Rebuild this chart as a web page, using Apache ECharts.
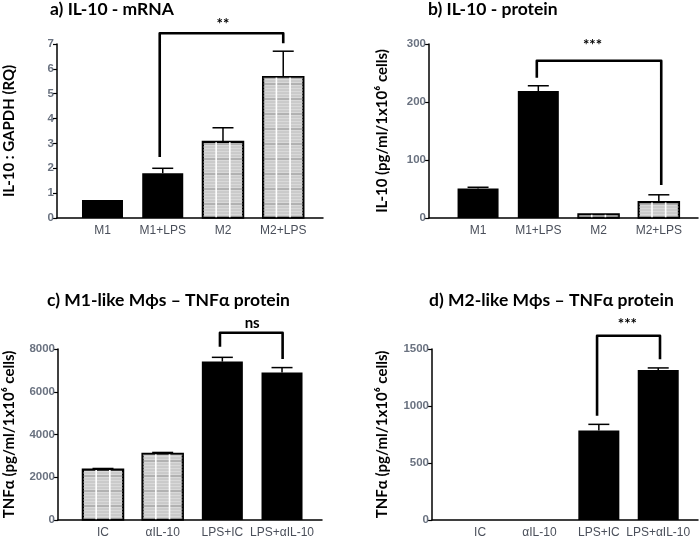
<!DOCTYPE html>
<html><head><meta charset="utf-8">
<script src="https://cdn.jsdelivr.net/npm/echarts@6/dist/echarts.min.js"></script>
<style>html,body{margin:0;padding:0;background:#fff}#c{width:700px;height:539px}</style>
</head><body><div id="c"></div>
<script>
// ---- data ----
const catsAB = ['M1', 'M1+LPS', 'M2', 'M2+LPS'];
const catsCD = ['IC', 'αIL-10', 'LPS+IC', 'LPS+αIL-10'];

const aValues = [0.72, 1.80, 3.08, 5.68];
const aErrTop = [null, 2.00, 3.63, 6.71];
const bValues = [51, 219, 7, 28];
const bErrTop = [53, 228, null, 40];
const cValues = [2370, 3110, 7410, 6900];
const cErrTop = [2410, 3160, 7610, 7130];
const dValues = [0, 0, 786, 1316];
const dErrTop = [null, null, 839, 1334];

const aTicks = {min: 0, max: 7, interval: 1};
const bTicks = {min: 0, max: 300, interval: 100};
const cTicks = {min: 0, max: 8000, interval: 2000};
const dTicks = {min: 0, max: 1500, interval: 500};

// brackets: [xLeft, yLeftBottom, yTop, xRight, yRightBottom]
const aBracket = [0.95, 2.45, 7.43, 3.0, 7.03];
const bBracket = [0.975, 242, 271, 3.04, 57];
const cBracket = [1.96, 8100, 8760, 3.01, 7530];
const dBracket = [1.97, 915, 1616, 3.03, 1410];
// significance labels: [x, y, text]
const aSig = [2.0, 7.8, '**'];
const bSig = [1.9, 298, '***'];
const cSig = [2.5, 9210, 'ns'];
const dSig = [2.48, 1715, '***'];

const titles = ['a) IL-10 - mRNA', 'b) IL-10 - protein', 'c) M1-like Mϕs – TNFα protein', 'd) M2-like Mϕs – TNFα protein'];
const yNames = ['IL-10 : GAPDH (RQ)', 'IL-10 (pg/ml/1x10⁶ cells)', 'TNFα (pg/ml/1x10⁶ cells)', 'TNFα (pg/ml/1x10⁶ cells)'];

// ---- style ----
const patterned = [[false, false, true, true], [false, false, true, true], [true, true, false, false], [false, false, false, false]];
const panels = [
  {vals: aValues, err: aErrTop, ticks: aTicks, cats: catsAB, br: aBracket, sig: aSig, grid: {left: 57, top: 44, width: 266, height: 174}, xr: [-0.755, 3.66], gap: 40},
  {vals: bValues, err: bErrTop, ticks: bTicks, cats: catsAB, br: bBracket, sig: bSig, grid: {left: 429, top: 44, width: 269, height: 174}, xr: [-0.814, 3.65], gap: 39},
  {vals: cValues, err: cErrTop, ticks: cTicks, cats: catsCD, br: cBracket, sig: cSig, grid: {left: 58, top: 349, width: 264, height: 172}, xr: [-0.754, 3.67], gap: 41},
  {vals: dValues, err: dErrTop, ticks: dTicks, cats: catsCD, br: dBracket, sig: dSig, grid: {left: 432, top: 349, width: 266, height: 172}, xr: [-0.81, 3.67], gap: 42}
];
const titlePos = [[50, 0], [428, 0], [47, 291], [429, 291]];
const BW = 41;

const chart = echarts.init(document.getElementById('c'), null, {renderer: 'canvas'});
const option = {
  backgroundColor: '#fff',
  animation: false,
  title: titles.map((t, i) => ({text: t, left: titlePos[i][0], top: titlePos[i][1], padding: 0,
    textStyle: {fontFamily: 'Lato', fontWeight: 'bold', fontSize: 17.5, color: '#000'}})),
  grid: panels.map(p => p.grid),
  xAxis: panels.map((p, i) => ({
    type: 'value', gridIndex: i, min: p.xr[0], max: p.xr[1],
    axisLine: {show: true, onZero: false, lineStyle: {color: '#000', width: 1.5}},
    axisTick: {show: false}, splitLine: {show: false},
    axisLabel: {customValues: [0, 1, 2, 3], formatter: v => p.cats[Math.round(v)] || '',
      color: '#4a4f5a', fontFamily: 'Liberation Sans', fontSize: 12, margin: 7}
  })),
  yAxis: panels.map((p, i) => ({
    type: 'value', gridIndex: i, min: p.ticks.min, max: p.ticks.max, interval: p.ticks.interval,
    name: yNames[i], nameLocation: 'middle', nameGap: p.gap, nameRotate: 90,
    nameTextStyle: {fontFamily: 'Lato', fontWeight: 'bold', fontSize: 15, color: '#000'},
    axisLine: {show: true, onZero: false, lineStyle: {color: '#000', width: 1.5}},
    axisTick: {show: true, length: 4, lineStyle: {color: '#000', width: 1.2}},
    splitLine: {show: false},
    axisLabel: {color: '#6a7280', fontFamily: 'Liberation Sans', fontWeight: 'bold', fontSize: 11.5, margin: 3,
      formatter: v => String(v)}
  })),
  series: []
};

panels.forEach((p, i) => {
  option.series.push({
    type: 'bar', xAxisIndex: i, yAxisIndex: i, barWidth: BW,
    data: p.vals.map((v, k) => ({value: [k, v], itemStyle: {color: patterned[i][k] ? '#d9d9d9' : '#000', borderColor: '#000', borderWidth: v > 0 ? 1.5 : 0}})),
    z: 2
  });
  option.series.push({
    type: 'custom', xAxisIndex: i, yAxisIndex: i, z: 3, clip: false,
    data: p.vals.map((v, k) => [k, v]).filter((d, k) => patterned[i][k]),
    encode: {x: 0, y: 1},
    renderItem: (params, api) => {
      const x = api.value(0), v = api.value(1);
      const base = api.coord([x, 0]), top = api.coord([x, v]);
      const L = base[0] - BW / 2;
      const ch = [];
      let k = 0;
      for (let yy = base[1] - 2; yy > top[1] + 1; yy -= 3) {
        k++;
        ch.push({type: 'line', shape: {x1: L, y1: yy, x2: L + BW, y2: yy},
          style: {stroke: k % 5 === 0 ? '#8a8a8a' : '#bcbcbc', lineWidth: 1}});
      }
      [1 / 3, 2 / 3].forEach(f => ch.push({type: 'line', shape: {x1: L + BW * f, y1: top[1], x2: L + BW * f, y2: base[1]},
        style: {stroke: '#fff', lineWidth: 1.6}}));
      ch.push({type: 'rect', shape: {x: L, y: top[1], width: BW, height: base[1] - top[1]},
        style: {fill: null, stroke: '#000', lineWidth: 1.5}});
      return {type: 'group', children: ch};
    }
  });
  option.series.push({
    type: 'custom', xAxisIndex: i, yAxisIndex: i, z: 4, clip: false,
    data: p.vals.map((v, k) => [k, v, p.err[k]]).filter(d => d[2] != null),
    encode: {x: 0, y: [1, 2]},
    renderItem: (params, api) => {
      const x = api.value(0);
      const a = api.coord([x, api.value(1)]), b = api.coord([x, api.value(2)]);
      return {type: 'group', children: [
        {type: 'line', shape: {x1: a[0], y1: a[1], x2: b[0], y2: b[1]}, style: {stroke: '#000', lineWidth: 1.5}},
        {type: 'line', shape: {x1: b[0] - 10.5, y1: b[1], x2: b[0] + 10.5, y2: b[1]}, style: {stroke: '#000', lineWidth: 1.5}}
      ]};
    }
  });
  option.series.push({
    type: 'custom', xAxisIndex: i, yAxisIndex: i, z: 5, clip: false,
    data: [p.br],
    encode: {x: [0, 3], y: [1, 2, 4]},
    renderItem: (params, api) => {
      const xL = api.value(0), yL = api.value(1), yT = api.value(2), xR = api.value(3), yR = api.value(4);
      const pts = [api.coord([xL, yL]), api.coord([xL, yT]), api.coord([xR, yT]), api.coord([xR, yR])];
      return {type: 'polyline', shape: {points: pts}, style: {stroke: '#000', lineWidth: 2.6, fill: null, lineJoin: 'round'}};
    }
  });
  option.series.push({
    type: 'custom', xAxisIndex: i, yAxisIndex: i, z: 5, clip: false,
    data: [[p.sig[0], p.sig[1]]],
    encode: {x: 0, y: 1},
    renderItem: (params, api) => {
      const pt = api.coord([api.value(0), api.value(1)]);
      return {type: 'text', x: pt[0], y: pt[1], style: {text: p.sig[2], fill: '#000',
        font: 'bold 15px Lato', align: 'center', verticalAlign: 'middle'}};
    }
  });
});
chart.setOption(option);
</script></body></html>
